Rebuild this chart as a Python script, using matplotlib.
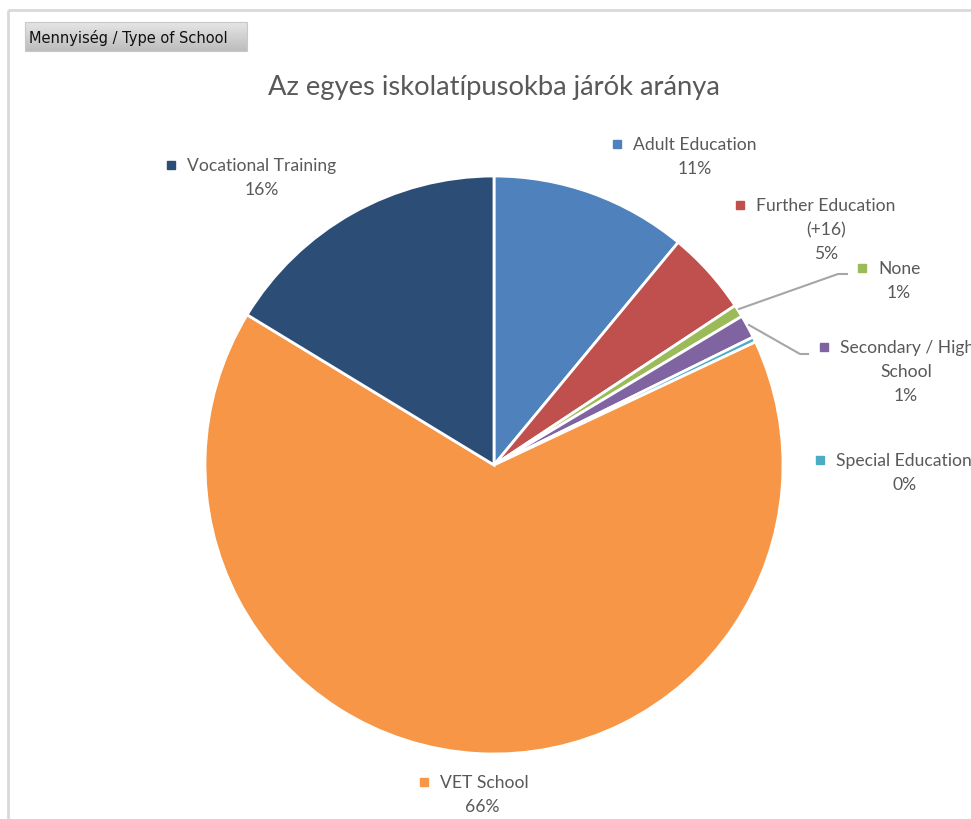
import numpy as np
import matplotlib.pyplot as plt
from matplotlib.patches import Rectangle

# shares in percent, clockwise from 12 o'clock
categories = ['Adult Education', 'Further Education\n(+16)', 'None',
              'Secondary / High\nSchool', 'Special Education',
              'VET School', 'Vocational Training']
shares = [11.0, 4.7, 0.7, 1.3, 0.3, 65.7, 16.3]
pct_labels = ['11%', '5%', '1%', '1%', '0%', '66%', '16%']
colors = ['#4F81BD', '#C0504D', '#9BBB59', '#8064A2', '#4BACC6', '#F79646', '#2C4D75']

title = 'Az egyes iskolatípusokba járók aránya'
button_text = 'Mennyiség / Type of School'

# label layout (pixels from top-left): key square x, first line y, centre x of text block
label_pos = [
    (617, 145, 695),
    (740, 206, 826),
    (862, 269, 899),
    (824, 348, 906),
    (820, 461, 905),
    (424, 783, 482),
    (171, 166, 262),
]
W, H = 971, 820
cx, cy, R = 494, 466, 289
txt_col = '#595959'
font = 'Lato'

fig = plt.figure(figsize=(W / 100, H / 100), dpi=100)
ax = fig.add_axes([0, 0, 1, 1])

ax.pie(shares, colors=colors, startangle=-90, counterclock=True,
       center=(cx, cy), radius=R,
       wedgeprops=dict(edgecolor='white', linewidth=2))
ax.set_xlim(0, W)
ax.set_ylim(H, 0)
ax.set_aspect('auto')
ax.axis('off')

# chart frame
ax.plot([8, W], [11, 11], color='#D9D9D9', lw=2, solid_capstyle='butt')
ax.plot([8, 8], [11, H], color='#D9D9D9', lw=2, solid_capstyle='butt')

# field button with gradient
grad = np.linspace(0.90, 0.74, 50).reshape(-1, 1)
ax.imshow(np.dstack([grad, grad, grad]), extent=(25, 247, 52, 23), aspect='auto', zorder=3)
ax.add_patch(Rectangle((25, 23), 222, 29, fill=False, edgecolor='#C8C8C8', lw=0.8, zorder=4))
ax.text(29, 38, button_text, fontsize=10.5, family='DejaVu Sans', color='#111111',
        va='center', ha='left', zorder=5)

ax.text(494, 88, title, fontsize=19.7, family=font, color=txt_col, ha='center', va='center')

# data labels
for name, pct, col, (sx, sy, mx) in zip(categories, pct_labels, colors, label_pos):
    lines = name.split('\n')
    ax.plot(sx, sy, marker='s', ms=6, color=col, mec=col)
    ax.text(sx + 16, sy, lines[0], fontsize=12.6, family=font, color=txt_col, ha='left', va='center')
    y = sy
    for ln in lines[1:]:
        y += 24
        ax.text(mx, y, ln, fontsize=12.6, family=font, color=txt_col, ha='center', va='center')
    ax.text(mx, y + 24, pct, fontsize=12.6, family=font, color=txt_col, ha='center', va='center')

# leader lines for the thin slices
ax.plot([739, 838, 847], [310, 275, 275], color='#A6A6A6', lw=1.5)
ax.plot([749, 800, 808], [326, 355, 355], color='#A6A6A6', lw=1.5)

fig.savefig('out.png', dpi=100)
